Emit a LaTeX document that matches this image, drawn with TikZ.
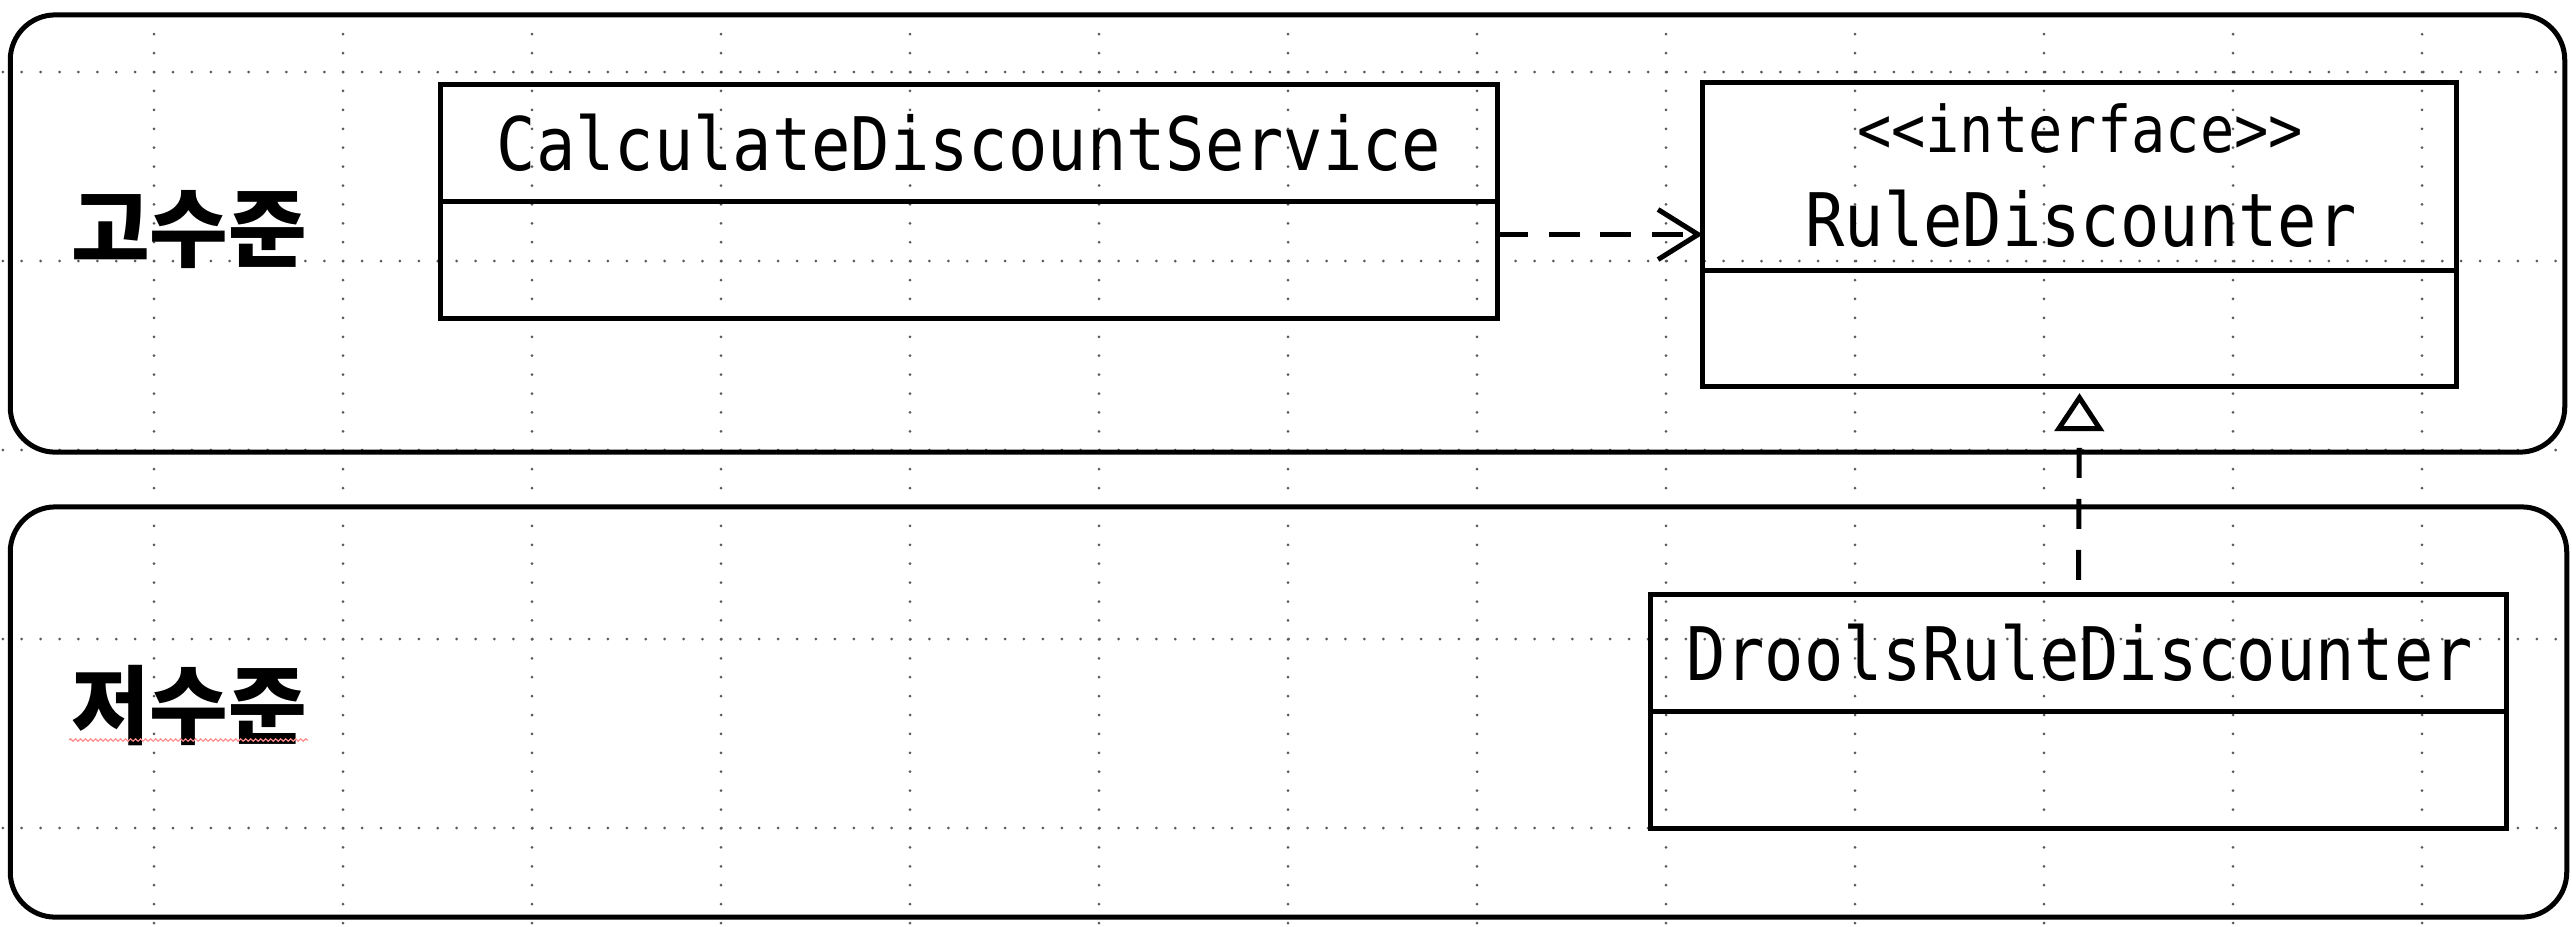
\documentclass[tikz,border=0pt]{standalone}
\usepackage{fontspec}
\usepackage{graphicx}
\usetikzlibrary{arrows.meta,decorations.pathmorphing}
\newfontfamily\umlfont{DejaVu Sans Mono}
\newfontfamily\krfont{Noto Sans CJK KR}
\begin{document}
\begin{tikzpicture}[x=0.01cm,y=-0.01cm,
  griddot/.style={line width=0.03cm, line cap=round, dash pattern=on 0pt off 0.189cm, black!65},
  frame/.style={draw, line width=0.05cm, rounded corners=0.45cm, inner sep=0pt, outer sep=0pt},
  classbox/.style={draw, line width=0.05cm, inner sep=0pt, outer sep=0pt},
  sepline/.style={line width=0.05cm},
  uml/.style={inner sep=0pt, anchor=base, font=\umlfont\fontsize{21}{21}\selectfont},
  stereo/.style={inner sep=0pt, anchor=base, font=\umlfont\fontsize{18.3}{18.3}\selectfont},
  kr/.style={inner sep=0pt, anchor=base, font=\krfont\bfseries\fontsize{24.3}{24.3}\selectfont},
  dep/.style={line width=0.05cm, dash pattern=on 0.31cm off 0.205cm, -{Straight Barb[length=0.4cm,width=0.5cm]}},
  real/.style={line width=0.05cm, dash pattern=on 0.30cm off 0.21cm, dash phase=0.36cm, -{Triangle[open,length=0.38cm,width=0.49cm]}}
]
\useasboundingbox (0,0) rectangle (2572,926);
% grid
\foreach \y in {72,261,450,639,828} \draw[griddot] (2.8,\y) -- (2572,\y);
\foreach \k in {0,...,12} \draw[griddot] ({154+189*\k},15.3) -- ({154+189*\k},926);
% frames
\node[frame, minimum width=25.53cm, minimum height=4.37cm] (high) at (1287.5,233.5) {};
\node[frame, minimum width=25.55cm, minimum height=4.10cm] (low) at (1288.5,712) {};
% level labels
\node[kr] (hilabel) at (189,260) {고수준};
\node[kr] (lolabel) at (189,737) {저수준};
\draw[red!45, line width=0.012cm, decorate, decoration={snake, amplitude=0.012cm, segment length=0.05cm}] (69,740) -- (308,740);
% classes
\node[classbox, minimum width=10.56cm, minimum height=2.33cm] (calc) at (969,201.5) {};
\draw[sepline] (calc.west |- 0,201) -- (calc.east |- 0,201);
\node[uml] (calcname) at (969,170) {\scalebox{0.885}[1]{CalculateDiscountService}};

\node[classbox, minimum width=7.53cm, minimum height=3.03cm] (rule) at (2079.5,234.5) {};
\draw[sepline] (rule.west |- 0,270) -- (rule.east |- 0,270);
\node[stereo] (stereotype) at (2080,152) {\scalebox{0.885}[1]{<\kern0pt<interface>\kern0pt>}};
\node[uml] (rulename) at (2081,246) {\scalebox{0.885}[1]{RuleDiscounter}};

\node[classbox, minimum width=8.55cm, minimum height=2.33cm] (drools) at (2078.5,711.5) {};
\draw[sepline] (drools.west |- 0,711) -- (drools.east |- 0,711);
\node[uml] (droolsname) at (2079.5,680) {\scalebox{0.885}[1]{DroolsRuleDiscounter}};
% connectors
\draw[dep] (calc.east |- rule.west) -- (rule.west);
\draw[real] (drools.north) -- ([yshift=-0.07cm]rule.south);
\end{tikzpicture}
\end{document}
